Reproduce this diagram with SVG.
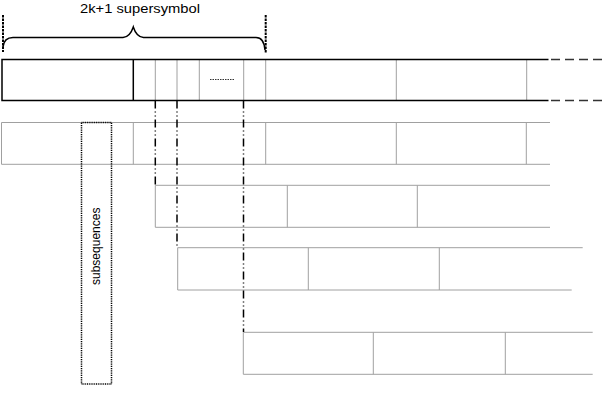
<svg xmlns="http://www.w3.org/2000/svg" width="606" height="420" viewBox="0 0 606 420">
<style>
.bk{stroke:#000;stroke-width:1.5;fill:none}
.gr{stroke:#a0a0a0;stroke-width:1;fill:none}
.dd{stroke:#000;stroke-width:1.5;fill:none;stroke-dasharray:8 3 1 3 1 3}
.vd{stroke:#000;stroke-width:2;fill:none;stroke-dasharray:2.5 1}
.ext{stroke:#333;stroke-width:1.5;fill:none;stroke-dasharray:9 5}
text{font-family:"Liberation Sans",Arial,sans-serif;fill:#000}
</style>
<g id="brace-label">
<text x="140" y="12.5" font-size="13" text-anchor="middle" textLength="120" lengthAdjust="spacingAndGlyphs">2k+1 supersymbol</text>
<path class="bk" d="M3,47 Q4,37.5 13,37.5 L123,37.5 Q130,37 133.3,27 Q136.5,37 143.5,37.5 L256,37.5 Q264,37.5 265,50"/>
<line class="vd" x1="3" y1="15" x2="3" y2="52"/>
<line class="vd" x1="265.7" y1="15" x2="265.7" y2="53"/>
</g>
<g id="supersymbol-row">
<line class="gr" x1="155.3" y1="59.5" x2="155.3" y2="100.5"/>
<line class="gr" x1="177" y1="59.5" x2="177" y2="100.5"/>
<line class="gr" x1="199.3" y1="59.5" x2="199.3" y2="100.5"/>
<line class="gr" x1="243.7" y1="59.5" x2="243.7" y2="100.5"/>
<line class="gr" x1="265.7" y1="59.5" x2="265.7" y2="100.5"/>
<line class="gr" x1="396.3" y1="59.5" x2="396.3" y2="100.5"/>
<line class="gr" x1="526.7" y1="59.5" x2="526.7" y2="100.5"/>
<path class="bk" d="M548.5,59.5 L2,59.5 L2,100.5 L548.5,100.5 M133.3,59.5 L133.3,100.5"/>
<line class="ext" x1="551" y1="59.5" x2="606" y2="59.5"/>
<line class="ext" x1="551" y1="100.5" x2="606" y2="100.5"/>
<line x1="210" y1="79.5" x2="235" y2="79.5" stroke="#333" stroke-width="1.2" stroke-dasharray="1.5 1"/>
</g>
<g id="row2">
<path class="gr" d="M550,122.5 L1.5,122.5 L1.5,164.3 L550,164.3 M133.3,122.5 V164.3 M265.7,122.5 V164.3 M396.3,122.5 V164.3 M526.3,122.5 V164.3"/>
</g>
<g id="row3">
<path class="gr" d="M550,185.3 L155.3,185.3 L155.3,227.3 L550,227.3 M287.3,185.3 V227.3 M417.3,185.3 V227.3"/>
</g>
<g id="row4">
<path class="gr" d="M582.7,247.7 L177.7,247.7 L177.7,290 L571.7,290 M308.3,247.7 V290 M439.3,247.7 V290"/>
</g>
<g id="row5">
<path class="gr" d="M592.7,332.3 L243.3,332.3 L243.3,374.3 L592.7,374.3 M373.3,332.3 V374.3 M505.3,332.3 V374.3"/>
</g>
<g id="subsequences">
<rect x="81.5" y="122.5" width="30" height="261.5" fill="none" stroke="#000" stroke-width="1.5" stroke-dasharray="1 0.8"/>
<text x="0" y="0" font-size="12" text-anchor="middle" transform="translate(100.3,246.3) rotate(-90)">subsequences</text>
</g>
<g id="connectors">
<line class="dd" x1="155.3" y1="100.5" x2="155.3" y2="185"/>
<line class="dd" x1="177" y1="100.5" x2="177" y2="248"/>
<line class="dd" x1="243.5" y1="100.5" x2="243.5" y2="332"/>
</g>
</svg>
